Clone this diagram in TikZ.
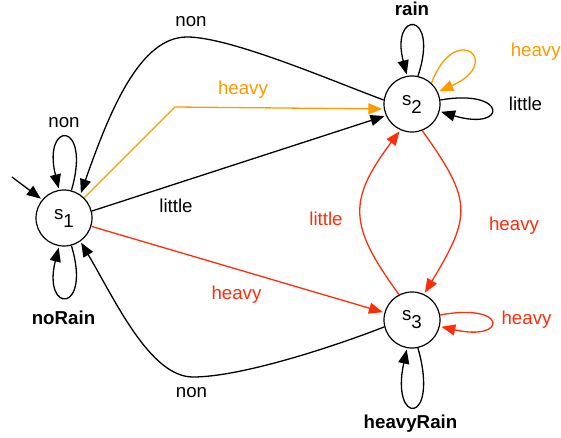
\documentclass[tikz,border=0pt]{standalone}
\usepackage{fontspec}
\setmainfont{Liberation Sans}
\usetikzlibrary{arrows.meta}
\definecolor{myorange}{RGB}{255,153,0}
\definecolor{myred}{RGB}{255,45,10}
\tikzset{
  state/.style={circle,draw,line width=1.2pt,minimum size=56pt,inner sep=0pt,fill=white},
  edge/.style={line width=1.3pt,-{Triangle[length=14pt,width=11pt]},shorten >=1.5pt},
  lbl/.style={anchor=base,inner sep=0pt,font=\fontsize{18.7}{22}\selectfont},
  blbl/.style={lbl,font=\fontsize{18.7}{22}\selectfont\bfseries},
}
\newcommand{\stname}[1]{\fontsize{18.7}{22}\selectfont s\raisebox{-8pt}{#1}}
\begin{document}
\begin{tikzpicture}[x=1pt,y=-1pt]
\useasboundingbox (0,0) rectangle (561,438);
% states
\node[state] (s1) at (64,218) {\stname{1}};
\node[state] (s2) at (412,104) {\stname{2}};
\node[state] (s3) at (412,320) {\stname{3}};
\coordinate (init) at (12,177);
\coordinate (hv) at (175,107);
\coordinate (ntop) at (187,37);
\coordinate (nbot) at (193,377);
% initial
\draw[edge] (init) -- (s1.140);
% s1 loops
\draw[edge] (s1.75) .. controls (92,120) and (42,120) .. (s1.100);
\draw[edge] (s1.-75) .. controls (92,314) and (42,314) .. (s1.-100);
% s2 loops
\draw[edge] (s2.78) .. controls (440,10) and (390,10) .. (s2.100);
\draw[edge,myorange] (s2.47) .. controls (455,20) and (505,62) .. (s2.25);
\draw[edge] (s2.8) .. controls (508,88) and (508,132) .. (s2.-15);
% s3 loops
\draw[edge,myred] (s3.10) .. controls (508,302) and (508,342) .. (s3.-13);
\draw[edge] (s3.-78) .. controls (440,426) and (390,426) .. (s3.-100);
% s1 <-> s2
\draw[edge] (s2.172) .. controls (330,80) and (230,37) .. (ntop)
            .. controls (140,37) and (110,110) .. (s1.55);
\draw[edge,myorange] (s1.45) -- (hv) -- (s2.190);
\draw[edge] (s1.14) -- (s2.204);
% s1 <-> s3
\draw[edge,myred] (s1.-17) -- (s3.165);
\draw[edge] (s3.194) .. controls (330,348) and (240,377) .. (nbot)
            .. controls (150,377) and (115,300) .. (s1.-55);
% s2 <-> s3
\draw[edge,myred] (s3.117) .. controls (348,225) and (348,200) .. (s2.246);
\draw[edge,myred] (s2.-69) .. controls (472,200) and (472,215) .. (s3.65);
% labels
\node[lbl] (l1) at (191,27) {non};
\node[lbl,text=myorange] (l2) at (243,95) {heavy};
\node[lbl] (l3) at (176,212) {little};
\node[lbl,text=myred] (l4) at (326,225) {little};
\node[lbl,text=myred] (l5) at (514,230) {heavy};
\node[lbl,text=myred] (l6) at (236.5,299) {heavy};
\node[lbl] (l7) at (191.5,397) {non};
\node[lbl] (l8) at (64,128) {non};
\node[blbl] (l9) at (63.5,324) {noRain};
\node[blbl] (l10) at (412,16) {rain};
\node[lbl,text=myorange] (l11) at (535.7,56.7) {heavy};
\node[lbl] (l12) at (525.5,111) {little};
\node[lbl,text=myred] (l13) at (526.5,324) {heavy};
\node[blbl] (l14) at (410.5,428) {heavyRain};
\end{tikzpicture}
\end{document}
